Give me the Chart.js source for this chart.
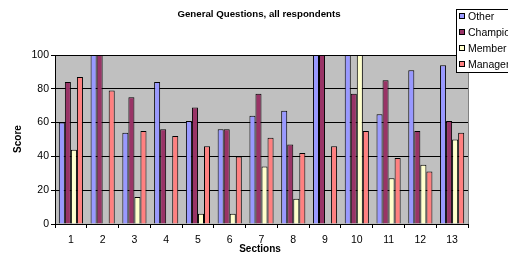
<!DOCTYPE html>
<html>
<head>
<meta charset="utf-8">
<script src="https://cdn.jsdelivr.net/npm/chart.js@4/dist/chart.umd.min.js"></script>
<style>
  html, body { margin: 0; padding: 0; background: #fff; }
  #c { display: block; }
</style>
</head>
<body>
<canvas id="c" width="508" height="255"></canvas>
<script>
// General Questions, all respondents — score per section, four respondent groups.
const sections = ['1', '2', '3', '4', '5', '6', '7', '8', '9', '10', '11', '12', '13'];
const other    = [60, 100, 54, 84, 61, 56, 64, 67, 100, 100, 65, 91, 94];
const champion = [84, 100, 75, 56, 69, 56, 77, 47, 100, 77, 85, 55, 61];
const member   = [44, 0, 16, 0, 6, 6, 34, 15, 0, 100, 27, 35, 50];
const manager  = [87, 79, 55, 52, 46, 40, 51, 42, 46, 55, 39, 31, 54];
const yTicks   = [0, 20, 40, 60, 80, 100];

const FONT = "'Liberation Sans', Arial, sans-serif";

// grey plot background, title, axis titles and the boxed legend (top right)
const frame = {
  id: 'frame',
  beforeDraw(chart) {
    const { ctx, chartArea: a } = chart;
    ctx.save();
    ctx.fillStyle = '#c0c0c0';
    ctx.fillRect(a.left, a.top, a.right - a.left, a.bottom - a.top);
    ctx.restore();
  },
  afterDraw(chart) {
    const { ctx, chartArea: a } = chart;
    ctx.save();
    ctx.fillStyle = '#000';
    ctx.textAlign = 'center';
    ctx.textBaseline = 'middle';
    ctx.font = 'bold 9.7px ' + FONT;
    ctx.fillText('General Questions, all respondents', 259, 14);
    ctx.font = 'bold 10px ' + FONT;
    ctx.fillText('Sections', 260, 249);
    ctx.translate(18, 139);
    ctx.rotate(-Math.PI / 2);
    ctx.fillText('Score', 0, 0);
    ctx.restore();

    // plot right edge
    ctx.save();
    ctx.strokeStyle = '#808080';
    ctx.lineWidth = 1;
    ctx.beginPath();
    ctx.moveTo(a.right + 0.5, a.top);
    ctx.lineTo(a.right + 0.5, a.bottom);
    ctx.stroke();

    // legend
    ctx.fillStyle = '#fff';
    ctx.fillRect(456.5, 9.5, 60, 63);
    ctx.strokeStyle = '#000';
    ctx.strokeRect(456.5, 9.5, 60, 63);
    ctx.font = '10.5px ' + FONT;
    ctx.textAlign = 'left';
    ctx.textBaseline = 'middle';
    chart.data.datasets.forEach((ds, i) => {
      const y = 17 + i * 16;
      ctx.fillStyle = ds.backgroundColor;
      ctx.fillRect(459.5, y - 3.5, 5, 5);
      ctx.strokeStyle = '#000';
      ctx.strokeRect(459.5, y - 3.5, 5, 5);
      ctx.fillStyle = '#000';
      ctx.fillText(ds.label, 468, y);
    });
    ctx.restore();
  }
};

const bar = (label, data, color) => ({
  label, data,
  backgroundColor: color,
  borderColor: '#000',
  borderWidth: 1,
  categoryPercentage: 0.76,
  barPercentage: 1,
});

new Chart(document.getElementById('c'), {
  type: 'bar',
  data: {
    labels: sections,
    datasets: [
      bar('Other', other, '#9999ff'),
      bar('Champion', champion, '#993366'),
      bar('Member', member, '#ffffcc'),
      bar('Manager', manager, '#ff8080'),
    ],
  },
  options: {
    responsive: false,
    animation: false,
    layout: { padding: { left: 0, right: 40, top: 55, bottom: 0 } },
    plugins: { legend: { display: false }, title: { display: false }, tooltip: { enabled: false } },
    scales: {
      x: {
        grid: { offset: true, drawOnChartArea: false, drawTicks: true, tickLength: 4, color: '#000' },
        border: { color: '#000' },
        ticks: { color: '#000', font: { family: FONT, size: 10.5 }, padding: 6, maxRotation: 0 },
        afterFit(s) { s.height = 31; },
      },
      y: {
        min: 0, max: 100,
        afterBuildTicks(s) { s.ticks = yTicks.map(v => ({ value: v })); },
        grid: { color: '#000', tickLength: 4 },
        border: { color: '#000' },
        ticks: { color: '#000', font: { family: FONT, size: 10.5 }, padding: 2 },
        afterFit(s) { s.width = 55; },
      },
    },
  },
  plugins: [frame],
});
</script>
</body>
</html>
